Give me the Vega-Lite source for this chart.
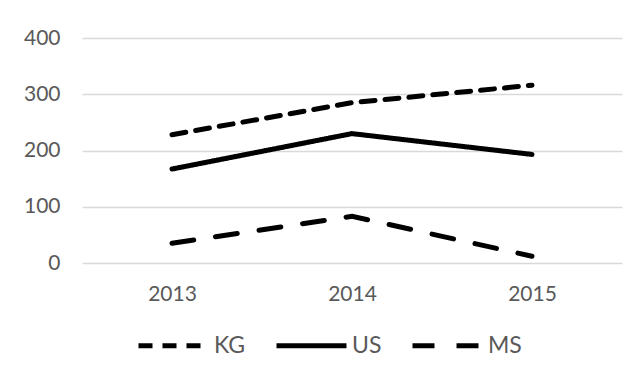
{
  "$schema": "https://vega.github.io/schema/vega-lite/v6.json",
  "width": 540,
  "height": 225,
  "autosize": {"type": "none"},
  "padding": {"left": 82, "top": 38, "right": 19, "bottom": 115},
  "background": "white",
  "data": {
    "values": [
      {"year": "2013", "series": "KG", "value": 228},
      {"year": "2014", "series": "KG", "value": 285},
      {"year": "2015", "series": "KG", "value": 316},
      {"year": "2013", "series": "US", "value": 167},
      {"year": "2014", "series": "US", "value": 230},
      {"year": "2015", "series": "US", "value": 193},
      {"year": "2013", "series": "MS", "value": 35},
      {"year": "2014", "series": "MS", "value": 83},
      {"year": "2015", "series": "MS", "value": 12}
    ]
  },
  "mark": {"type": "line", "color": "black", "strokeWidth": 5, "strokeCap": "round"},
  "encoding": {
    "x": {
      "field": "year", "type": "ordinal", "title": null,
      "scale": {"type": "point", "padding": 0.5},
      "axis": {"domain": false, "ticks": false, "labelAngle": 0, "labelPadding": 20, "labelFontSize": 21, "labelColor": "#595959", "labelFont": "Lato"}
    },
    "y": {
      "field": "value", "type": "quantitative", "title": null,
      "scale": {"domain": [0, 400]},
      "axis": {"values": [0, 100, 200, 300, 400], "domain": false, "ticks": false, "labelPadding": 22, "labelFontSize": 21, "labelColor": "#595959", "labelFont": "Lato", "gridColor": "#d9d9d9", "gridWidth": 1.5}
    },
    "strokeDash": {
      "field": "series", "type": "nominal", "title": null,
      "scale": {"domain": ["KG", "US", "MS"], "range": [[14, 10], [1, 0], [22, 22]]},
      "legend": {
        "orient": "none", "legendX": 54, "legendY": 270, "direction": "horizontal",
        "symbolType": "stroke", "symbolSize": 4900, "symbolStrokeWidth": 5, "symbolStrokeColor": "black",
        "labelFontSize": 23, "labelColor": "#595959", "labelFont": "Lato", "labelOffset": 3, "columnPadding": 20
      }
    }
  },
  "config": {"view": {"stroke": null}}
}
